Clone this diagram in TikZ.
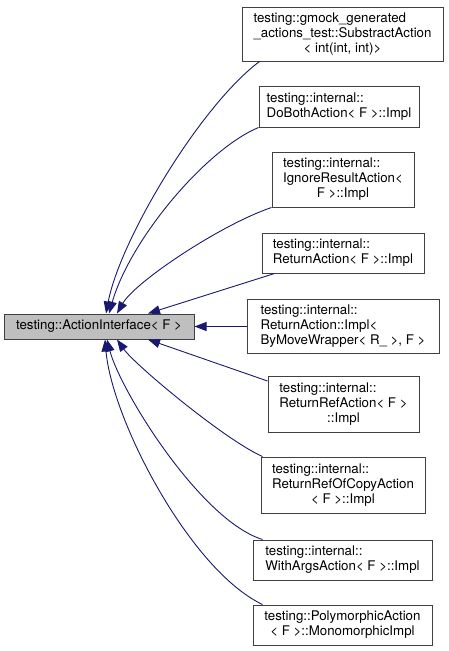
\documentclass[tikz,border=0pt]{standalone}
\usepackage{fontspec}
\setmainfont{TeX Gyre Heros}
\usetikzlibrary{arrows.meta}

\definecolor{basegray}{HTML}{BFBFBF}
\definecolor{edgeblue}{HTML}{191970}
\definecolor{framegray}{HTML}{404040}

% class label: left aligned lines, last line centred
\newcommand{\cls}[2]{\begin{tabular}{@{}l@{}}#1\\\multicolumn{1}{@{}c@{}}{#2}\end{tabular}}

\begin{document}
\begin{tikzpicture}[x=1pt, y=-1pt
        , every node/.style={font=\fontsize{13.3}{15}\selectfont}
        , klass/.style={draw=framegray, line width=1pt, fill=white, inner sep=0pt}
        , inherit/.style={draw=edgeblue, line width=0.9pt
            , arrows={Triangle[length=12pt,width=9pt,fill=edgeblue]-}}
    ]
    \useasboundingbox (0,0) rectangle (449,651);

    %% base class
    \node[klass, fill=basegray, minimum width=190, minimum height=25] (actionIf) at (99,326.5)
        {testing::ActionInterface< F >};

    %% derived classes, top to bottom
    \node[klass, minimum width=201, minimum height=54] (subtractAct) at (342.5,34)
        {\cls{testing::gmock\_generated\\\_actions\_test::SubstractAction}{< int(int, int)>}};
    \node[klass, minimum width=160, minimum height=41] (doBoth) at (339,106.5)
        {\cls{testing::internal::}{DoBothAction< F >::Impl}};
    \node[klass, minimum width=142, minimum height=55] (ignoreResult) at (343,179.5)
        {\cls{testing::internal::\\IgnoreResultAction<}{F >::Impl}};
    \node[klass, minimum width=162, minimum height=40] (returnAct) at (343,253)
        {\cls{testing::internal::}{ReturnAction< F >::Impl}};
    \node[klass, minimum width=192, minimum height=54] (returnByMove) at (343,326.5)
        {\cls{testing::internal::\\ReturnAction::Impl<}{ ByMoveWrapper< R\_ >, F >}};
    \node[klass, minimum width=151, minimum height=56] (returnRef) at (343.5,404.5)
        {\cls{testing::internal::\\ReturnRefAction< F >}{::Impl}};
    \node[klass, minimum width=164, minimum height=56] (returnRefCopy) at (343,485)
        {\cls{testing::internal::\\ReturnRefOfCopyAction}{< F >::Impl}};
    \node[klass, minimum width=179, minimum height=40] (withArgs) at (342.5,560)
        {\cls{testing::internal::}{WithArgsAction< F >::Impl}};
    \node[klass, minimum width=179, minimum height=40] (polyMono) at (342.5,625)
        {\cls{testing::PolymorphicAction}{< F >::MonomorphicImpl}};

    % upper edges
    \draw[inherit] ([xshift=7pt]actionIf.north) .. controls (120,240) and (200,106)
        .. ([xshift=18pt]subtractAct.south west);
    \draw[inherit] ([xshift=10pt]actionIf.north) .. controls (130,240) and (205,150)
        .. (doBoth.south west);
    \draw[inherit] ([xshift=18pt]actionIf.north) .. controls (135,282) and (220,225)
        .. (ignoreResult.south west);
    \draw[inherit] ([xshift=49pt]actionIf.north) -- ([xshift=13pt]returnAct.south west);

    % straight across
    \draw[inherit] (actionIf.east) -- (returnByMove.west);

    % lower edges
    \draw[inherit] ([xshift=49pt]actionIf.south) -- ([yshift=-5pt]returnRef.north west);
    \draw[inherit] ([xshift=18pt]actionIf.south) .. controls (135,365) and (225,440)
        .. ([xshift=2pt]returnRefCopy.north west);
    \draw[inherit] ([xshift=8pt]actionIf.south) .. controls (120,390) and (200,520)
        .. ([xshift=10pt]withArgs.north west);
    \draw[inherit] ([xshift=6pt]actionIf.south) .. controls (112,420) and (190,570)
        .. ([xshift=10pt]polyMono.north west);
\end{tikzpicture}
\end{document}
